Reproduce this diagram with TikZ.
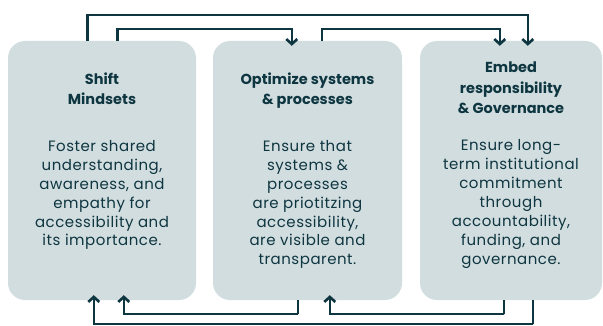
\documentclass[tikz,border=0pt]{standalone}
\usepackage{fontspec}
\setmainfont{Poppins}
\usetikzlibrary{arrows.meta,calc}
\definecolor{ink}{HTML}{0E3641}
\definecolor{card}{HTML}{D2DDDF}
\tikzset{
  card/.style={fill=card, draw=none, rounded corners=17pt, minimum height=259pt, inner sep=0pt},
  head/.style={text=ink, align=center, inner sep=0pt, font=\fontsize{14.5}{20.5}\selectfont\bfseries},
  body/.style={text=ink, align=center, inner sep=0pt, font=\fontsize{15}{19}\selectfont\addfontfeature{LetterSpace=3.5}},
  link/.style={draw=ink, line width=2.6pt, -{Straight Barb[length=5pt,width=11pt,line width=2.6pt]}, shorten >=-5pt},
}
\begin{document}
\begin{tikzpicture}[x=1pt,y=-1pt]
\useasboundingbox (0,0) rectangle (603,326);
% the three cards
\node[card, minimum width=188pt] (c1) at (102,170.5) {};
\node[card, minimum width=189pt] (c2) at (307.5,170.5) {};
\node[card, minimum width=182pt] (c3) at (511,170.5) {};
% headings (anchored at the baseline of their last line)
\node[head, anchor=base] (h1) at (102,105) {Shift\\Mindsets};
\node[head, anchor=base] (h2) at (307.5,105) {Optimize systems\\\& processes};
\node[head, anchor=base] (h3) at (511,114) {Embed\\responsibility\\\& Governance};
% descriptions
\node[body, anchor=base] (t1) at (102,246) {Foster shared\\understanding,\\awareness, and\\empathy for\\accessibility and\\its importance.};
\node[body, anchor=base] (t2) at (307.5,265) {Ensure that\\systems \&\\processes\\are priotitzing\\accessibility,\\are visible and\\transparent.};
\node[body, anchor=base] (t3) at (511,264) {Ensure long-\\term institutional\\commitment\\through\\accountability,\\funding, and\\governance.};
% feed-forward links over the top
\draw[link] ([xshift=79.5pt]c1.north west) |- (87.5,15) -| ([xshift=108pt]c3.north west);
\draw[link] ([xshift=109.5pt]c1.north west) |- (117.5,29) -| ([xshift=79pt]c2.north west);
\draw[link] ([xshift=109pt]c2.north west) |- (322,29) -| ([xshift=80pt]c3.north west);
% feedback links underneath
\draw[link] ([xshift=113pt]c3.south west) |- (533,324) -| ([xshift=86pt]c1.south west);
\draw[link] ([xshift=84pt]c3.south west) |- (504,314) -| ([xshift=117pt]c2.south west);
\draw[link] ([xshift=85pt]c2.south west) |- (298,314) -| ([xshift=116pt]c1.south west);
\end{tikzpicture}
\end{document}
